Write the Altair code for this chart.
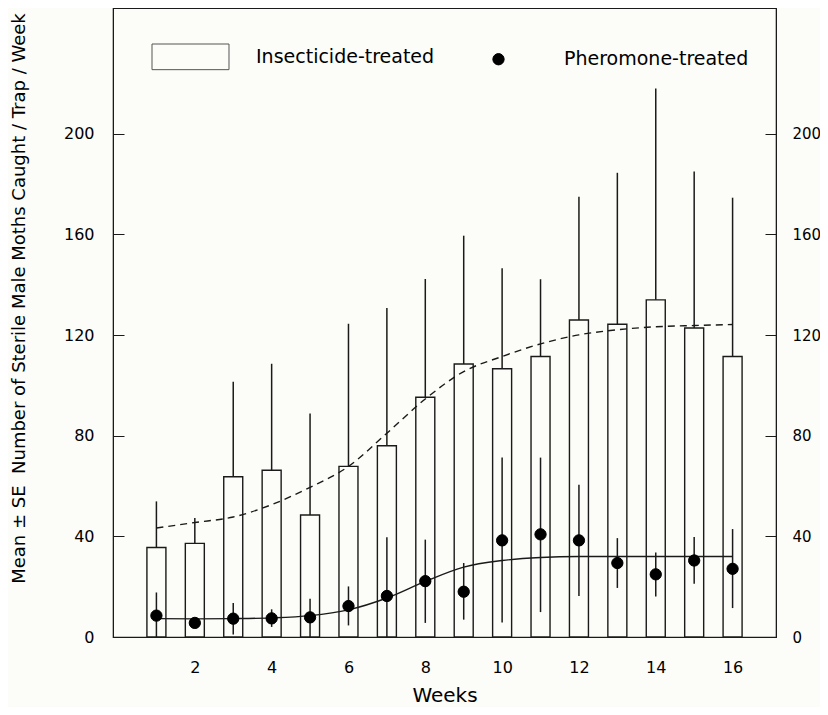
import altair as alt
import pandas as pd

weeks = list(range(1, 17))
insecticide_mean = [35.6, 37.2, 63.7, 66.3, 48.5, 67.8, 76.0, 95.3, 108.5, 106.6, 111.5, 126.0, 124.3, 134.0, 122.8, 111.5]
insecticide_upper = [53.9, 47.3, 101.5, 108.6, 88.8, 124.5, 130.8, 142.3, 159.5, 146.6, 142.2, 175.0, 184.5, 218.0, 185.0, 174.6]
insecticide_fit = [43.3, 45.5, 47.7, 52.6, 59.5, 67.8, 81.0, 94.6, 105.5, 111.5, 116.5, 120.1, 122.1, 123.3, 123.8, 124.2]
pheromone_mean = [8.5, 5.6, 7.3, 7.4, 7.8, 12.3, 16.3, 22.2, 18.0, 38.4, 40.8, 38.4, 29.4, 24.9, 30.4, 27.1]
pheromone_lower = [0.0, 5.6, 1.0, 4.0, 0.0, 4.6, 0.0, 5.6, 6.9, 5.8, 9.9, 16.3, 19.5, 16.1, 21.2, 11.5]
pheromone_upper = [17.7, 5.6, 13.5, 11.0, 15.2, 20.1, 39.6, 38.7, 29.4, 71.3, 71.3, 60.5, 39.3, 33.6, 39.7, 42.9]
pheromone_fit = [7.3, 7.2, 7.3, 7.6, 8.5, 10.8, 15.5, 22.1, 27.8, 30.4, 31.6, 32.0, 32.0, 32.0, 32.0, 32.0]
series_names = ["Insecticide-treated", "Pheromone-treated"]
x_ticks = [2, 4, 6, 8, 10, 12, 14, 16]
y_ticks = [0, 40, 80, 120, 160, 200]

BG = "#fcfcf8"
INK = "#1a1a1a"
FONT = "DejaVu Sans"

df = pd.DataFrame({
    "week": weeks,
    "ins_mean": insecticide_mean,
    "ins_upper": insecticide_upper,
    "ins_fit": insecticide_fit,
    "ph_mean": pheromone_mean,
    "ph_lower": pheromone_lower,
    "ph_upper": pheromone_upper,
    "ph_fit": pheromone_fit,
    "series": [series_names[1]] * len(weeks),
})

xscale = alt.Scale(domain=[0, 17], nice=False, zero=False)
yscale = alt.Scale(domain=[0, 250], nice=False)

x_enc = alt.X("week:Q", scale=xscale,
              axis=alt.Axis(values=x_ticks, title="Weeks", ticks=False, grid=False,
                            labelPadding=22, labelFontSize=16, labelFont=FONT,
                            titleFontSize=20, titleFont=FONT, titleFontWeight="normal",
                            titleY=64, titleBaseline="alphabetic",
                            domainColor=INK, labelColor="black", titleColor="black"))

left_axis = alt.Axis(values=y_ticks, grid=False,
                     title="Mean ± SE\u00a0 Number of Sterile Male Moths Caught / Trap / Week",
                     tickSize={"expr": "-11"}, labelPadding=30, labelFontSize=16, labelFont=FONT,
                     titleFontSize=18, titleFont=FONT, titleFontWeight="normal",
                     titleX=-89, titleY=290, titleBaseline="alphabetic",
                     domainColor=INK, tickColor=INK, labelColor="black", titleColor="black")
right_axis = alt.Axis(values=y_ticks, grid=False, orient="right", title=None,
                      tickSize={"expr": "-11"}, labelPadding=27, labelFontSize=15, labelFont=FONT,
                      domainColor=INK, tickColor=INK, labelColor="black")

base = alt.Chart(df)

bars = base.mark_bar(size=19, fill=BG, stroke=INK, strokeWidth=1.4).encode(
    x=x_enc,
    y=alt.Y("ins_mean:Q", scale=yscale, axis=left_axis),
)

ins_err = base.mark_rule(color=INK, strokeWidth=1.5).encode(
    x=x_enc,
    y=alt.Y("ins_mean:Q", scale=yscale, axis=None),
    y2="ins_upper:Q",
)

ins_curve = base.mark_line(color=INK, strokeWidth=1.4, strokeDash=[7, 5], interpolate="monotone").encode(
    x=x_enc,
    y=alt.Y("ins_fit:Q", scale=yscale, axis=right_axis),
)

ph_err = base.mark_rule(color=INK, strokeWidth=1.5).encode(
    x=x_enc,
    y=alt.Y("ph_lower:Q", scale=yscale, axis=None),
    y2="ph_upper:Q",
)

ph_curve = base.mark_line(color=INK, strokeWidth=1.4, interpolate="monotone").encode(
    x=x_enc,
    y=alt.Y("ph_fit:Q", scale=yscale, axis=None),
)

legend = alt.Legend(orient="none", legendX=51, legendY=22, direction="horizontal", columns=2,
                    title=None, padding=0, labelFont=FONT, labelFontSize=19, labelColor="black",
                    labelOffset=39, symbolSize=2633, symbolStrokeWidth=1,
                    columnPadding=37, labelLimit=400)

rect_path = "M-1.5,-0.5H1.5V0.5H-1.5Z"
dot_path = "M0.22,0A0.22,0.22,0,1,1,-0.22,0A0.22,0.22,0,1,1,0.22,0Z"

dots = base.mark_point(filled=True, size=2633, opacity=1, strokeWidth=1).encode(
    x=x_enc,
    y=alt.Y("ph_mean:Q", scale=yscale, axis=None),
    fill=alt.Fill("series:N", scale=alt.Scale(domain=series_names, range=[BG, "black"]), legend=legend),
    stroke=alt.Stroke("series:N", scale=alt.Scale(domain=series_names, range=["#555555", "black"]), legend=legend),
    shape=alt.Shape("series:N", scale=alt.Scale(domain=series_names, range=[rect_path, dot_path]), legend=legend),
)

chart = alt.layer(bars, ins_err, ins_curve, ph_err, ph_curve, dots).resolve_axis(
    y="independent"
).properties(
    width=663,
    height=629,
    autosize=alt.AutoSizeParams(type="none"),
    padding={"left": 105, "top": 0, "right": 44, "bottom": 70},
    background=BG,
).configure_view(stroke=INK, strokeWidth=1.2)

chart.save("out.html", embed_options={"renderer": "svg", "actions": False})
